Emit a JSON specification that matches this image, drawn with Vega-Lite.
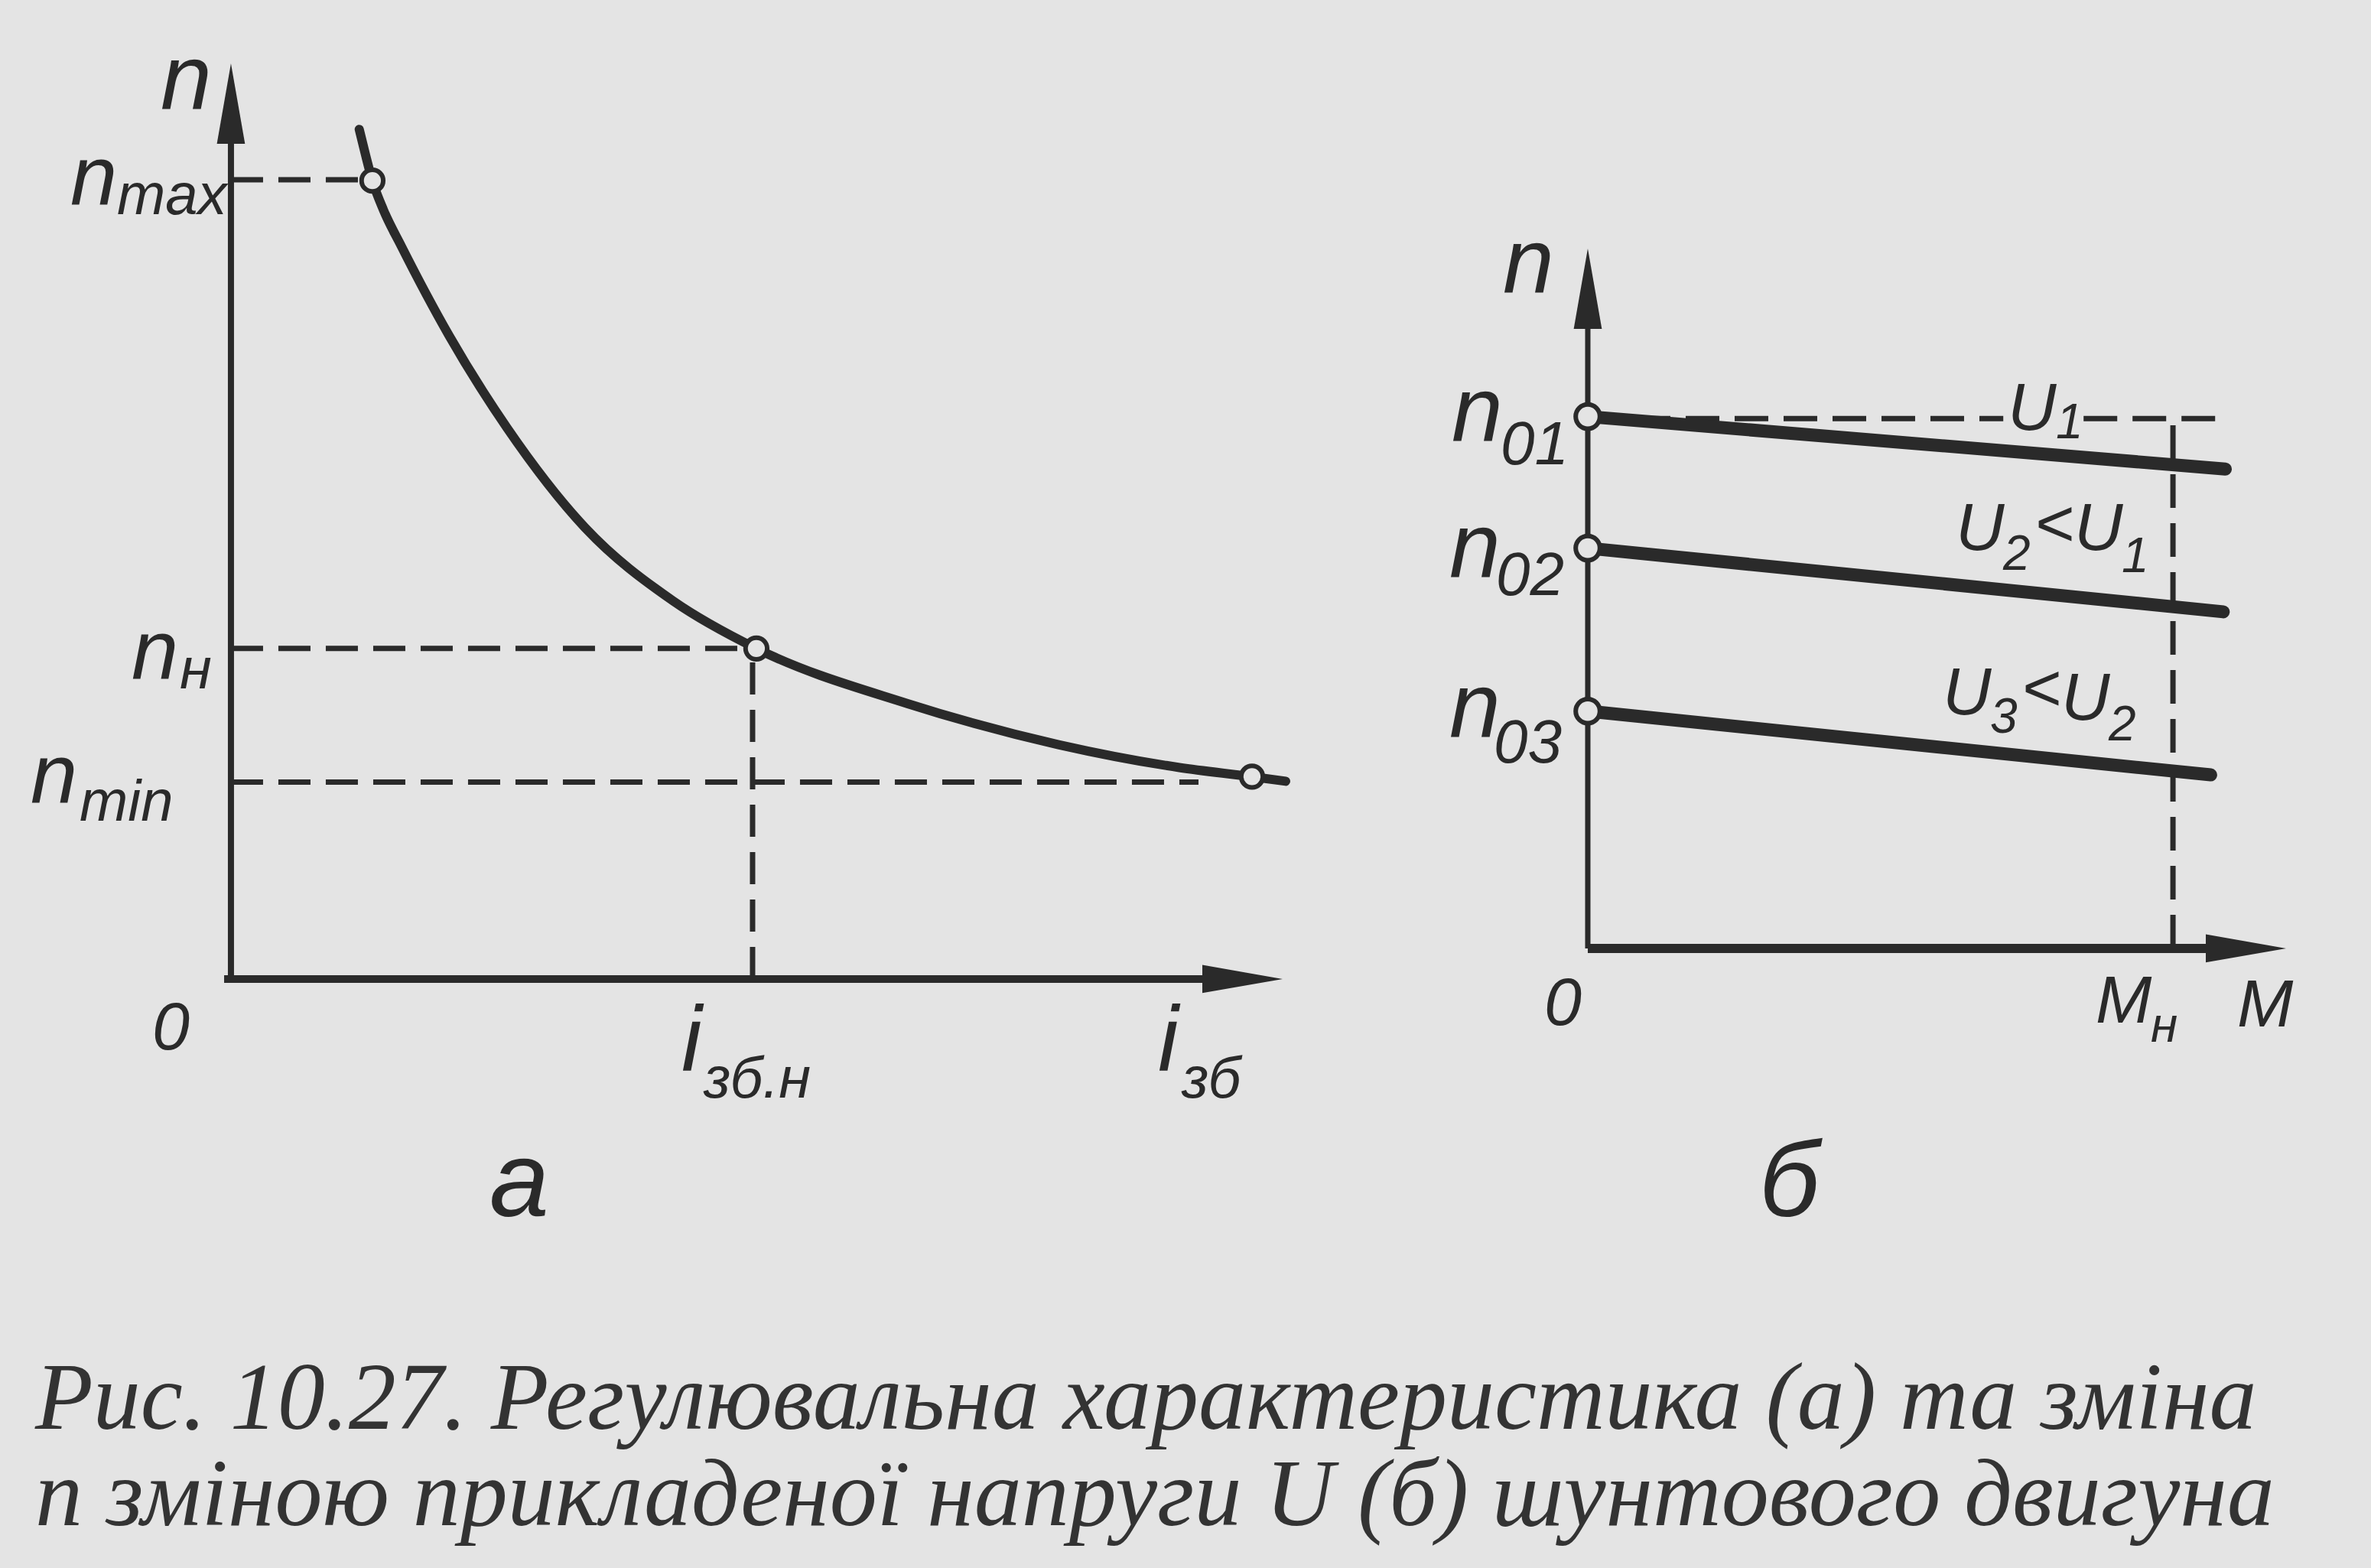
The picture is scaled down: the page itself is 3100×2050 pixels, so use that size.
{
  "$schema": "https://vega.github.io/schema/vega-lite/v6.json",
  "width": 3100,
  "height": 1720,
  "autosize": {"type": "pad"},
  "padding": {"left": 0, "top": 0, "right": 0, "bottom": 60},
  "background": "#e4e4e4",
  "config": {"view": {"stroke": null}},
  "title": {
    "text": ["Рис. 10.27. Регулювальна характеристика (а) та зміна", "n зміною прикладеної напруги U (б) шунтового двигуна"],
    "orient": "bottom",
    "anchor": "start",
    "frame": "group",
    "offset": 50,
    "dx": 46,
    "font": "Liberation Serif",
    "fontStyle": "italic",
    "fontWeight": "normal",
    "fontSize": 124,
    "lineHeight": 126,
    "color": "#333333"
  },
  "datasets": {
    "a_curve": [
      {"i": 1.22, "n": 9.28}, {"i": 1.28, "n": 9.0}, {"i": 1.345, "n": 8.72}, {"i": 1.45, "n": 8.4},
      {"i": 1.622, "n": 8.0}, {"i": 2.073, "n": 7.03}, {"i": 2.625, "n": 6.02}, {"i": 3.367, "n": 4.93},
      {"i": 4.204, "n": 4.13}, {"i": 4.996, "n": 3.61}, {"i": 6.429, "n": 3.01}, {"i": 7.869, "n": 2.56},
      {"i": 9.018, "n": 2.31}, {"i": 9.709, "n": 2.21}, {"i": 10.029, "n": 2.16}
    ],
    "a_dashed": [
      {"i": 0, "n": 8.73, "i2": 1.3, "n2": 8.73},
      {"i": 0, "n": 3.61, "i2": 4.96, "n2": 3.61},
      {"i": 4.96, "n": 0, "i2": 4.96, "n2": 3.61},
      {"i": 0, "n": 2.15, "i2": 9.2, "n2": 2.15}
    ],
    "a_axis_y": [{"i": 0, "n": 0, "i2": 0, "n2": 9.5}],
    "a_axis_x": [{"i": -0.065, "n": 0, "i2": 9.5, "n2": 0}],
    "a_points": [{"i": 1.345, "n": 8.72}, {"i": 4.996, "n": 3.61}, {"i": 9.709, "n": 2.21}],
    "a_arrow_up": [{"i": 0, "n": 10}],
    "a_arrow_right": [{"i": 10, "n": 0}],
    "a_text_120": [
      {"i": -0.669, "n": 9.499, "label": "n"},
      {"i": 4.284, "n": -1.003, "label": "i"},
      {"i": 8.815, "n": -1.003, "label": "i"}
    ],
    "a_text_110": [
      {"i": -1.527, "n": 8.454, "label": "n"},
      {"i": -0.945, "n": 3.275, "label": "n"},
      {"i": -1.905, "n": 1.921, "label": "n"}
    ],
    "a_text_sub": [
      {"i": -1.084, "n": 8.354, "label": "max"},
      {"i": -0.487, "n": 3.175, "label": "н"},
      {"i": -1.44, "n": 1.729, "label": "min"},
      {"i": 4.495, "n": -1.295, "label": "зб.н"},
      {"i": 9.04, "n": -1.295, "label": "зб"}
    ],
    "a_text_88": [{"i": -0.749, "n": -0.769, "label": "0"}],
    "a_text_panel": [{"i": 2.458, "n": -2.59, "label": "а"}],
    "b_axis_y": [{"M": 0, "n": 0, "M2": 0, "n2": 9.5}],
    "b_axis_x": [{"M": 0, "n": 0, "M2": 9.5, "n2": 0}],
    "b_lines": [
      {"M": 0, "n": 7.6, "M2": 9.13, "n2": 6.85},
      {"M": 0, "n": 5.72, "M2": 9.1, "n2": 4.81},
      {"M": 0, "n": 3.39, "M2": 8.92, "n2": 2.48}
    ],
    "b_dashed": [
      {"M": 0, "n": 7.57, "M2": 5.95, "n2": 7.57},
      {"M": 7.1, "n": 7.57, "M2": 8.99, "n2": 7.57},
      {"M": 8.38, "n": 0, "M2": 8.38, "n2": 7.5}
    ],
    "b_points": [{"M": 0, "n": 7.6}, {"M": 0, "n": 5.72}, {"M": 0, "n": 3.39}],
    "b_arrow_up": [{"M": 0, "n": 10}],
    "b_arrow_right": [{"M": 10, "n": 0}],
    "b_text_120": [
      {"M": -1.216, "n": 9.366, "label": "n"},
      {"M": -1.95, "n": 7.246, "label": "n"},
      {"M": -1.982, "n": 5.301, "label": "n"},
      {"M": -1.982, "n": 3.016, "label": "n"}
    ],
    "b_text_zero": [
      {"M": -1.249, "n": 6.918, "label": "01"},
      {"M": -1.314, "n": 5.049, "label": "02"},
      {"M": -1.347, "n": 2.656, "label": "03"}
    ],
    "b_text_88": [
      {"M": 6.013, "n": 7.41, "label": "U"},
      {"M": 5.268, "n": 5.694, "label": "U"},
      {"M": 6.396, "n": 5.749, "label": "<"},
      {"M": 6.966, "n": 5.694, "label": "U"},
      {"M": 5.082, "n": 3.344, "label": "U"},
      {"M": 6.21, "n": 3.399, "label": "<"},
      {"M": 6.78, "n": 3.268, "label": "U"},
      {"M": -0.624, "n": -1.093, "label": "0"},
      {"M": 7.273, "n": -1.06, "label": "M"},
      {"M": 9.299, "n": -1.115, "label": "M"}
    ],
    "b_text_sub": [
      {"M": 6.703, "n": 7.29, "label": "1"},
      {"M": 5.947, "n": 5.41, "label": "2"},
      {"M": 7.645, "n": 5.377, "label": "1"},
      {"M": 5.761, "n": 3.082, "label": "3"},
      {"M": 7.459, "n": 2.973, "label": "2"},
      {"M": 8.061, "n": -1.333, "label": "н"}
    ],
    "b_text_panel": [{"M": 2.453, "n": -3.825, "label": "б"}]
  },
  "layer": [
    {
      "encoding": {
        "x": {"field": "i", "type": "quantitative", "scale": {"domain": [-2.196, 20.349], "nice": false, "zero": false}, "axis": null},
        "y": {"field": "n", "type": "quantitative", "scale": {"domain": [-3.676, 10.693], "nice": false, "zero": false}, "axis": null}
      },
      "layer": [
        {"data": {"name": "a_dashed"}, "mark": {"type": "rule", "color": "#2a2a2a", "strokeWidth": 7, "strokeDash": [42, 20]}, "encoding": {"x2": {"field": "i2"}, "y2": {"field": "n2"}}},
        {"data": {"name": "a_axis_y"}, "mark": {"type": "rule", "color": "#2a2a2a", "strokeWidth": 8}, "encoding": {"x2": {"field": "i2"}, "y2": {"field": "n2"}}},
        {"data": {"name": "a_axis_x"}, "mark": {"type": "rule", "color": "#2a2a2a", "strokeWidth": 10}, "encoding": {"x2": {"field": "i2"}, "y2": {"field": "n2"}}},
        {"data": {"name": "a_curve"}, "mark": {"type": "line", "color": "#2a2a2a", "strokeWidth": 12, "interpolate": "monotone", "strokeCap": "round"}},
        {"data": {"name": "a_points"}, "mark": {"type": "point", "shape": "circle", "filled": true, "fill": "#e4e4e4", "stroke": "#2a2a2a", "strokeWidth": 6, "size": 800, "opacity": 1}},
        {"data": {"name": "a_arrow_up"}, "mark": {"type": "point", "shape": "M0,0L-0.35,2L0.35,2Z", "filled": true, "color": "#2a2a2a", "size": 11025, "opacity": 1}},
        {"data": {"name": "a_arrow_right"}, "mark": {"type": "point", "shape": "M0,0L-2,-0.35L-2,0.35Z", "filled": true, "color": "#2a2a2a", "size": 11025, "opacity": 1}},
        {"data": {"name": "a_text_120"}, "mark": {"type": "text", "font": "Liberation Sans", "fontStyle": "italic", "fontSize": 120, "align": "left", "baseline": "alphabetic", "color": "#2a2a2a"}, "encoding": {"text": {"field": "label"}}},
        {"data": {"name": "a_text_110"}, "mark": {"type": "text", "font": "Liberation Sans", "fontStyle": "italic", "fontSize": 110, "align": "left", "baseline": "alphabetic", "color": "#2a2a2a"}, "encoding": {"text": {"field": "label"}}},
        {"data": {"name": "a_text_sub"}, "mark": {"type": "text", "font": "Liberation Sans", "fontStyle": "italic", "fontSize": 76, "align": "left", "baseline": "alphabetic", "color": "#2a2a2a"}, "encoding": {"text": {"field": "label"}}},
        {"data": {"name": "a_text_88"}, "mark": {"type": "text", "font": "Liberation Sans", "fontStyle": "italic", "fontSize": 88, "align": "left", "baseline": "alphabetic", "color": "#2a2a2a"}, "encoding": {"text": {"field": "label"}}},
        {"data": {"name": "a_text_panel"}, "mark": {"type": "text", "font": "Liberation Sans", "fontStyle": "italic", "fontSize": 140, "align": "left", "baseline": "alphabetic", "color": "#2a2a2a"}, "encoding": {"text": {"field": "label"}}}
      ]
    },
    {
      "encoding": {
        "x": {"field": "M", "type": "quantitative", "scale": {"domain": [-22.738, 11.216], "nice": false, "zero": false}, "axis": null},
        "y": {"field": "n", "type": "quantitative", "scale": {"domain": [-5.246, 13.552], "nice": false, "zero": false}, "axis": null}
      },
      "layer": [
        {"data": {"name": "b_dashed"}, "mark": {"type": "rule", "color": "#2a2a2a", "strokeWidth": 7, "strokeDash": [44, 20]}, "encoding": {"x2": {"field": "M2"}, "y2": {"field": "n2"}}},
        {"data": {"name": "b_axis_y"}, "mark": {"type": "rule", "color": "#2a2a2a", "strokeWidth": 7}, "encoding": {"x2": {"field": "M2"}, "y2": {"field": "n2"}}},
        {"data": {"name": "b_axis_x"}, "mark": {"type": "rule", "color": "#2a2a2a", "strokeWidth": 12}, "encoding": {"x2": {"field": "M2"}, "y2": {"field": "n2"}}},
        {"data": {"name": "b_lines"}, "mark": {"type": "rule", "color": "#2a2a2a", "strokeWidth": 17, "strokeCap": "round"}, "encoding": {"x2": {"field": "M2"}, "y2": {"field": "n2"}}},
        {"data": {"name": "b_points"}, "mark": {"type": "point", "shape": "circle", "filled": true, "fill": "#e4e4e4", "stroke": "#2a2a2a", "strokeWidth": 6, "size": 1000, "opacity": 1}},
        {"data": {"name": "b_arrow_up"}, "mark": {"type": "point", "shape": "M0,0L-0.35,2L0.35,2Z", "filled": true, "color": "#2a2a2a", "size": 11025, "opacity": 1}},
        {"data": {"name": "b_arrow_right"}, "mark": {"type": "point", "shape": "M0,0L-2,-0.35L-2,0.35Z", "filled": true, "color": "#2a2a2a", "size": 11025, "opacity": 1}},
        {"data": {"name": "b_text_120"}, "mark": {"type": "text", "font": "Liberation Sans", "fontStyle": "italic", "fontSize": 120, "align": "left", "baseline": "alphabetic", "color": "#2a2a2a"}, "encoding": {"text": {"field": "label"}}},
        {"data": {"name": "b_text_zero"}, "mark": {"type": "text", "font": "Liberation Sans", "fontStyle": "italic", "fontSize": 80, "align": "left", "baseline": "alphabetic", "color": "#2a2a2a"}, "encoding": {"text": {"field": "label"}}},
        {"data": {"name": "b_text_88"}, "mark": {"type": "text", "font": "Liberation Sans", "fontStyle": "italic", "fontSize": 88, "align": "left", "baseline": "alphabetic", "color": "#2a2a2a"}, "encoding": {"text": {"field": "label"}}},
        {"data": {"name": "b_text_sub"}, "mark": {"type": "text", "font": "Liberation Sans", "fontStyle": "italic", "fontSize": 64, "align": "left", "baseline": "alphabetic", "color": "#2a2a2a"}, "encoding": {"text": {"field": "label"}}},
        {"data": {"name": "b_text_panel"}, "mark": {"type": "text", "font": "Liberation Sans", "fontStyle": "italic", "fontSize": 140, "align": "left", "baseline": "alphabetic", "color": "#2a2a2a"}, "encoding": {"text": {"field": "label"}}}
      ]
    }
  ],
  "resolve": {"scale": {"x": "independent", "y": "independent"}}
}
